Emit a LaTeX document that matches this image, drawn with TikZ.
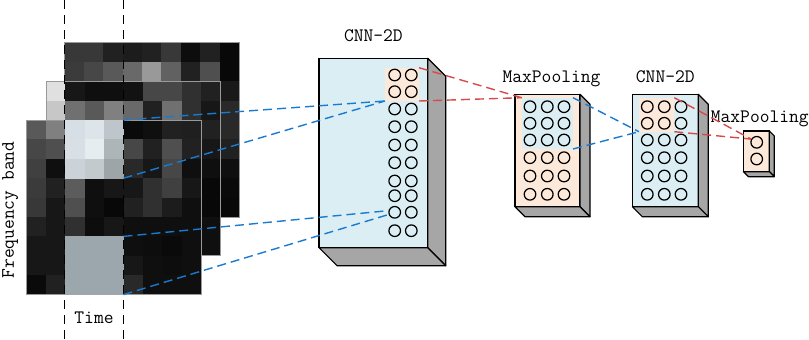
\documentclass[tikz,border=0pt]{standalone}
\usepackage{tikz}
\usetikzlibrary{positioning, calc}
\usepackage{xcolor}

\definecolor{cnnblue}{HTML}{DAEEF3}
\definecolor{poolorange}{HTML}{FDE9D9}
\definecolor{sidegray}{HTML}{A6A6A6}
\definecolor{linkblue}{HTML}{1A7AD0}
\definecolor{linkred}{HTML}{D84A4A}
\definecolor{lowpatch}{HTML}{9CA7AD}

% side and bottom faces of a layer block
\newcommand{\boxdepth}[2]{%
  \filldraw[face] (#1.north east) -- ++(#2,#2) -- ($(#1.south east)+(#2,#2)$) -- (#1.south east) -- cycle;
  \filldraw[face] (#1.south west) -- ++(#2,#2) -- ($(#1.south east)+(#2,#2)$) -- (#1.south east) -- cycle;
}

% one 9x9 layer of the spectrogram: origin x, origin y, rows of grey levels
\newcommand{\speclayer}[3]{%
  \foreach \vals [count=\r from 0] in {#3} {
    \foreach \v [count=\c from 0] in \vals
      \fill[white!\v!black] ({#1+\c*19.4},{#2+\r*19.4}) rectangle ++(19.8,19.8);
  }
  \draw[layeredge] (#1,#2) rectangle ++(174.6,174.6);
}

\begin{document}
\begin{tikzpicture}[x=1pt, y=-1pt,
    face/.style={fill=sidegray, draw=black, line width=1.2pt, line join=round},
    layer/.style={draw=black, line width=1.2pt, inner sep=0pt, outer sep=0pt},
    hilite/.style={inner sep=0pt, outer sep=0pt},
    neuron/.style={circle, draw=black, line width=1.25pt, minimum size=11.6pt, inner sep=0pt},
    title/.style={font=\fontsize{19}{21}\selectfont\ttfamily, inner sep=0pt, text depth=0pt},
    layeredge/.style={draw=black!40, line width=0.5pt},
    guide/.style={black, line width=0.9pt, dash pattern=on 9pt off 6pt},
    bluelink/.style={linkblue, line width=1.4pt, dash pattern=on 9pt off 5pt},
    redlink/.style={linkred, line width=1.4pt, dash pattern=on 9pt off 5pt}]
    \useasboundingbox (0,0) rectangle (809,340);

    % Spectrogram
    \speclayer{64.3}{42.3}{{22,22,13,11,13,22,5,13,3},{23,28,35,41,60,38,13,31,3},
      {10,10,10,10,10,10,10,10,10},{16,16,16,16,16,16,16,16,16},{16,16,16,16,16,16,16,16,16},
      {13,13,13,13,13,13,13,13,13},{6,6,6,6,6,6,6,6,6},{4,4,4,4,4,4,4,4,4},{3,3,3,3,3,3,3,3,3}}
    \speclayer{45.8}{81.1}{{88,9,6,6,7,28,28,19,13},{78,44,35,50,41,13,44,19,9},
      {13,13,13,13,13,13,13,13,13},{9,9,9,9,9,9,9,9,9},{6,6,6,6,6,6,6,6,6},
      {3,3,3,3,3,3,3,3,3},{3,3,3,3,3,3,3,3,3},{6,6,6,6,6,6,6,6,6},{6,6,6,6,6,6,6,6,6}}
    \speclayer{26.5}{120}{{35,50,80,80,80,4,6,13,12},{28,31,80,80,80,28,13,31,13},
      {25,6,80,80,80,16,9,28,6},{23,13,36,6,9,9,19,25,9},{22,9,31,6,3,13,19,11,6},
      {13,9,19,5,9,6,6,6,6},{9,9,60,60,60,6,5,4,6},{9,9,60,60,60,9,6,5,6},{4,13,60,60,60,16,6,6,6}}
    \foreach \c/\r/\hex in {2/0/D6DFE5, 3/0/DDE5EA, 4/0/BEC6CB, 2/1/D8E0E6, 3/1/E6EDF1,
        4/1/ADB5B9, 2/2/CBD3D8, 3/2/C2CACE, 4/2/9DA5A9} {
      \definecolor{cellcol}{HTML}{\hex}
      \fill[cellcol] ({26.5+\c*19.4},{120+\r*19.4}) rectangle ++(19.8,19.8);
    }
    \fill[lowpatch] (65.3,236.4) rectangle ++(58.2,58.2);
    \node[hilite, minimum width=58.2pt, minimum height=58.2pt, anchor=north west] (specHi) at (65.3,120) {};
    \node[hilite, minimum width=58.2pt, minimum height=58.2pt, anchor=north west] (specLo) at (65.3,236.4) {};

    % Axes
    \draw[guide] (64.5,0) -- (64.5,340);
    \draw[guide] (123.8,0) -- (123.8,340);
    \node[title] (timelbl) at (94,317.5) {Time};
    \node[title, rotate=90] (freqlbl) at (8,210) {Frequency band};

    % First convolution
    \node[layer, fill=cnnblue, minimum width=108.7pt, minimum height=189.4pt] (cnnA) at (373.4,153) {};
    \boxdepth{cnnA}{18}
    \node[hilite, fill=poolorange, minimum width=34pt, minimum height=33.3pt] (hlA) at (402,84.35) {};
    \foreach \yy [count=\r] in {75,91.7,109,126.7,145,162.7,181,195.7,212.3,230.7}
      \foreach \xx [count=\c] in {394.7,411.3}
        \node[neuron] (a-\r-\c) at (\xx,\yy) {};
    \node[title, above=16.6pt of cnnA] (cnnAlbl) {CNN-2D};

    % First pooling
    \node[layer, fill=poolorange, minimum width=65pt, minimum height=112.4pt] (poolA) at (547.5,150.5) {};
    \boxdepth{poolA}{10}
    \node[hilite, fill=cnnblue, minimum width=51.3pt, minimum height=51.3pt] (hlB) at (547.35,123.35) {};
    \foreach \yy [count=\r] in {106.7,123.3,140,157.7,176,194.3}
      \foreach \xx [count=\c] in {530,547.3,564}
        \node[neuron] (b-\r-\c) at (\xx,\yy) {};
    \node[title, above=12pt of poolA, xshift=4pt] (poolAlbl) {MaxPooling};

    % Second convolution
    \node[layer, fill=cnnblue, minimum width=66pt, minimum height=112.4pt] (cnnB) at (665.3,150.5) {};
    \boxdepth{cnnB}{10}
    \node[hilite, fill=poolorange, minimum width=35.3pt, minimum height=34pt] (hlC) at (656.65,114.7) {};
    \foreach \yy [count=\r] in {106.7,123.3,140,157.7,176,194.3}
      \foreach \xx [count=\c] in {647.3,664.3,681}
        \node[neuron] (c-\r-\c) at (\xx,\yy) {};
    \node[title, above=12pt of cnnB] (cnnBlbl) {CNN-2D};

    % Second pooling
    \node[layer, fill=poolorange, minimum width=26pt, minimum height=40.7pt] (poolB) at (756.3,151.3) {};
    \boxdepth{poolB}{5}
    \node[neuron] (d-1) at (756.7,142.3) {};
    \node[neuron] (d-2) at (756.7,159) {};
    \node[title, above=8.7pt of poolB, xshift=3.5pt] (poolBlbl) {MaxPooling};

    % Receptive fields
    \draw[bluelink] (specHi.north east) -- (hlA.south west);
    \draw[bluelink] (specHi.south east) -- (hlA.south west);
    \draw[bluelink] (specLo.north east) -- (a-9-1.165);
    \draw[bluelink] (specLo.south east) -- (a-9-1.200);
    \draw[redlink] (hlA.north east) -- (hlB.north west);
    \draw[redlink] (hlA.south east) -- (hlB.north west);
    \draw[bluelink] (hlB.north east) -- (hlC.south west);
    \draw[bluelink] (hlB.south east) -- (hlC.south west);
    \draw[redlink] (hlC.north east) -- (d-1.150);
    \draw[redlink] (hlC.south east) -- (d-1.150);
\end{tikzpicture}
\end{document}
